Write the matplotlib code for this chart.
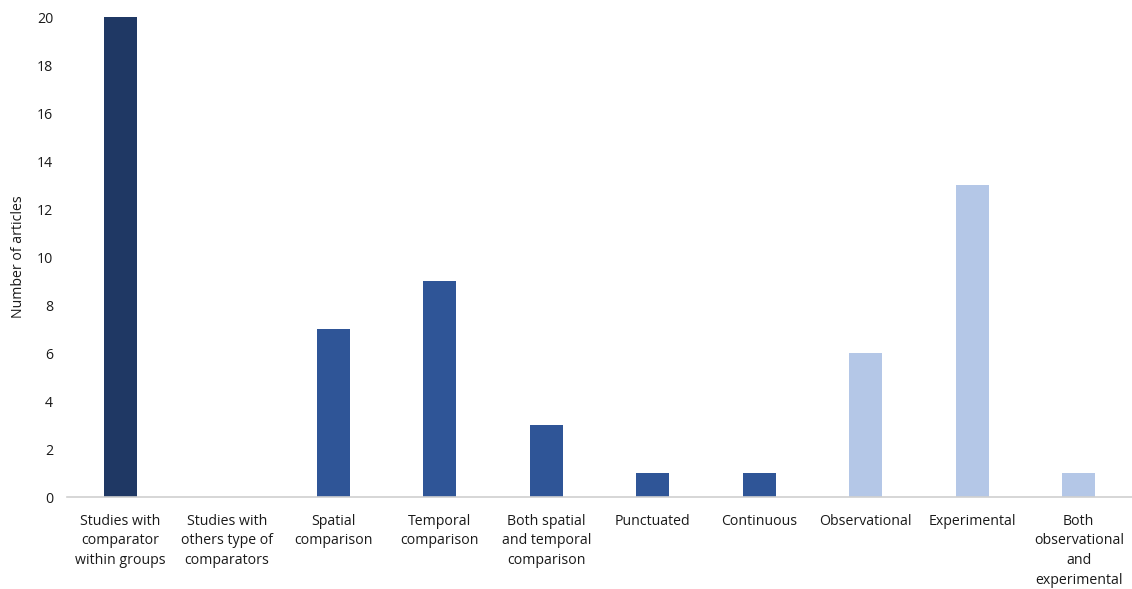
import matplotlib.pyplot as plt

# < data >-------------------------------------------------------------------------------------

categories = [
    "Studies with\ncomparator\nwithin groups",
    "Studies with\nothers type of\ncomparators",
    "Spatial\ncomparison",
    "Temporal\ncomparison",
    "Both spatial\nand temporal\ncomparison",
    "Punctuated",
    "Continuous",
    "Observational",
    "Experimental",
    "Both\nobservational\nand\nexperimental",
]
counts = [20, 0, 7, 9, 3, 1, 1, 6, 13, 1]
groups = ["comparator", "comparator", "design", "design", "design",
          "timing", "timing", "type", "type", "type"]

# < colours >----------------------------------------------------------------------------------

GROUP_COLORS = {
    "comparator": "#1f3864",
    "design": "#2f5597",
    "timing": "#2f5597",
    "type": "#b4c7e7",
}

# ---------------------------------------------------------------------------------------------
def main():
    plt.rcParams["font.family"] = ["Open Sans", "DejaVu Sans"]

    fig = plt.figure(figsize=(11.32, 5.89), dpi=100)
    ax = fig.add_axes([0.0592, 0.156, 0.9408, 0.815])

    x = range(len(categories))
    colors = [GROUP_COLORS[g] for g in groups]
    ax.bar(x, counts, width=0.31, color=colors, zorder=2)

    ax.set_xlim(-0.5, len(categories) - 0.5)
    ax.set_ylim(0, 20)
    ax.set_yticks(range(0, 21, 2))
    ax.set_xticks(list(x))
    ax.set_xticklabels(categories, fontsize=10.2, color="#1a1a1a", linespacing=1.42,
                       va="top")

    ax.tick_params(axis="both", length=0, labelsize=10.2, colors="#1a1a1a")
    ax.tick_params(axis="x", pad=12)
    ax.tick_params(axis="y", pad=10)

    for side in ["top", "right", "left"]:
        ax.spines[side].set_visible(False)
    ax.spines["bottom"].set_color("#d0d0d0")
    ax.spines["bottom"].set_linewidth(1.2)

    ax.set_ylabel("Number of articles", fontsize=10.2, color="#1a1a1a", labelpad=8)

    fig.savefig("out.png", dpi=100)

if __name__ == "__main__":
    main()
